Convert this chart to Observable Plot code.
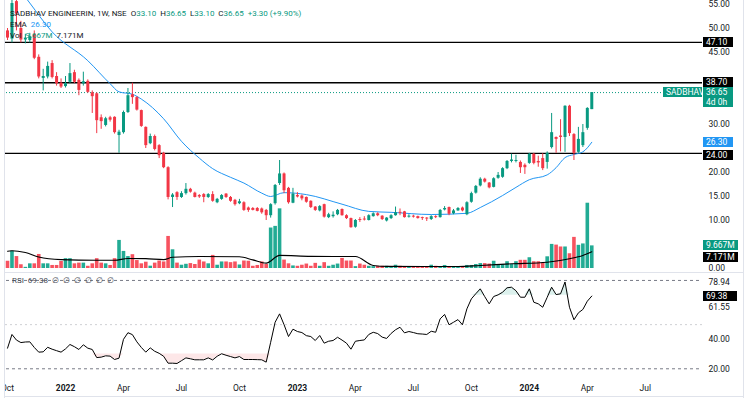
<!DOCTYPE html>
<html><head><meta charset="utf-8">
<script src="https://cdn.jsdelivr.net/npm/d3@7"></script>
<script src="https://cdn.jsdelivr.net/npm/@observablehq/plot@0.6"></script>
<style>
body{margin:0;background:#fff;}
#chart{position:relative;width:745px;height:398px;overflow:hidden;font-family:Roboto,"Liberation Sans",sans-serif;color:#131722;background:#fff;}
#chart svg{position:absolute;left:0;}
.tag{position:absolute;font-size:8.5px;color:#fff;padding-left:3px;box-sizing:border-box;white-space:nowrap;}
.leg{position:absolute;left:10px;font-size:8px;line-height:10px;white-space:nowrap;color:#131722;}
.g{color:#089981}.b{color:#2196f3}
.line{position:absolute;background:#e0e3eb;}
</style></head><body><div id="chart"></div>
<script>
// ---------- data (weekly bars, first bar week of 2021-10-04) ----------
const startWeek = "2021-10-04";
const open = [49.5,47.8,55.6,50,47.6,47.5,48.8,44,39.6,39.9, 42.7,40,38.6,37.9,38.8,40.8,39.2,38.5,39,36.6, 36.4,31.4,29.8,31.4,31.5,27.7,28.3,32.5,36.2,35.6, 32.9,29.4,26,27.5,25.6,24,21,14.8,15.8,14.8, 15.6,16.5,15.7,15.2,15.4,14.8,15.4,13.7,14.4,15.5, 14.8,14.2,13.5,13.7,12.6,12.5,12.5,12.4,12.1,11, 13.5,17.7,19.7,16.7,13.6,15.2,15.1,14.8,14,12.8, 12,13.3,10.6,10.8,11.2,12.3,11,10.4,8.6,10.2, 10.3,10,10.8,11.4,10.9,9.9,10.4,11,11.7,11.8, 10.7,10.9,10.8,10.6,10.5,10.2,10.8,10.6,12.2,12.7, 11.4,12,12.6,11.2,13.8,15.7,17.2,18.6,17.8,16.9, 18.8,19,20.8,22.3,22.3,22.1,21.5,21.9,23.8,22.3, 22.9,22.1,25.2,27.3,27.6,27.3,33.8,27.9,24.2,25.6, 29.2,33.1];
const high = [50,56,57,51.5,48.8,49,49.5,44.5,41.5,43, 43.3,40.8,39.5,40,42.7,41.3,39.5,40.9,39.3,37, 36.6,32,31.5,31.7,31.6,28.8,32.8,37.5,38.6,35.8, 33,29.5,28,27.8,25.8,24.2,21.2,15.6,16,16, 17.7,16.7,15.9,15.4,15.6,15.6,16,14.6,15.4,15.6, 15,14.4,14.4,13.9,12.8,12.7,12.7,12.6,12.3,13.5, 17.5,22.5,19.9,16.9,16.7,15.8,15.3,14.9,14.1,12.9, 13.1,13.4,11.5,11.8,12.3,12.4,11.2,10.5,10.2,10.6, 10.8,11.2,11.6,11.6,11,10.6,11.2,12.8,12.4,11.9, 11.2,11.1,10.9,10.7,10.6,11,11,12.3,12.9,12.8, 12.3,12.7,12.8,13.9,15.9,17.3,18.9,18.8,17.9,18.9, 20,21,22.5,23.8,23.6,22.4,21.8,24,24,23.4, 23.9,24.3,32.3,27.4,31,33.9,34,28.1,29.4,30, 33.5,36.65];
const low = [47.5,47,49.5,47,46.8,47,43.5,39.5,37,39.5, 39.5,38,37.5,37.6,38.5,38.5,36,38,36.5,32.3, 28.1,29,29.5,30.5,28,24,28,32.3,34.2,32.8, 29.4,25,25.8,24.5,22.9,20.8,14.3,12.7,14.2,14.6, 15.3,15.7,14.7,14.6,13.7,14.6,13.8,13.5,14.2,14.6, 13.8,13,13.3,11.9,11.7,12,11.8,11.3,10,10.5, 13.2,17.3,15.6,13.4,13.5,14.7,14.1,13.6,12.5,11.9, 11.8,10.5,10.4,10.5,11,10.9,10.2,8.4,8.4,9.6, 9.9,9.9,10.7,10.8,10,9.7,10.2,10.9,11,10.5, 10.5,10.5,10.3,10,9.8,10,10.4,10.5,12,11, 11.2,11.9,11.8,11,13.6,15.5,17,17.8,16.6,16.8, 18.6,18.8,20.6,22,22,19.8,19.6,21.7,21.6,21.1, 20.4,20.7,24.9,24,24.3,24.2,27.5,22.5,24,25.2, 28.8,33.1];
const close = [48,55.2,53,47.6,48,48.3,43.8,39.9,40,42.1, 39.8,38.5,37.8,38.5,40.6,38.8,37.1,38.9,36.7,35.8, 30.8,30.6,31.2,30.9,28.3,28.4,32.5,36,35.6,33, 29.6,25.6,27.5,24.8,23.5,21,14.8,15.3,14.8,15.6, 16.5,15.9,14.8,14.9,14.8,15.4,14,14.4,15.2,14.8, 14,13.3,13.9,12.1,12.1,12.1,11.9,11.6,11,13.3, 17.3,19.7,16.2,13.7,15.5,14.9,14.5,13.8,12.7,12.1, 12.9,10.7,11.2,11.1,12.1,11,10.4,8.5,10,10, 10.1,11,11.4,11,10.2,10.5,11,11.6,11.5,10.6, 10.9,10.7,10.4,10.4,10.3,10.8,10.6,12.1,12.5,11.3, 12,12.5,12,13.7,15.6,17.1,18.6,18,16.8,18.7, 19.4,20.8,22.3,22.6,22.5,21,21,23.8,21.9,22, 20.8,24,28.3,26.9,27.3,33.8,28.1,24,26.9,28.3, 33.35,36.65];
const volumeM = [3.1,7.4,5.1,1.6,0.5,2,2,6,2,2, 1.3,1.3,3,4.2,4.2,2,2.3,2.3,0.95,2, 4.2,2.3,2,1.3,4.2,12,7.3,5.1,5.9,3.4, 2,2.7,1,2.3,3.2,2.8,13.7,8,2.3,1.4, 1.8,2.1,1.7,3.6,2.8,2,5.6,1.4,2.8,2.8, 2.5,2.8,1.5,3.2,3.1,0.95,1.3,2.8,1.7,17.3, 18,25.5,3.6,2,1.1,0.95,1.4,1.9,0.95,2.2, 0.95,2.5,0.95,1.4,1.9,4.3,3.2,3.2,0.8,1.9, 1.4,0.95,0.8,0.95,0.95,0.95,0.8,1.4,0.95,0.8, 0.8,0.8,0.8,0.8,0.8,1.4,0.95,0.8,1.3,0.6, 0.8,0.6,0.4,1.3,1.3,1.7,2.1,2.1,1.9,3.1, 1.7,1.7,2.9,1.7,2.9,3.5,3.5,4.6,2.9,2.9, 2.4,5,10.3,10,9.2,9.2,6.3,13.3,9.9,10.5, 27.9,9.667];
const rsi = [34,43.3,39.5,37.8,38.2,38.3,34.5,31.3,31.5,34.6, 33.3,32.3,31.3,33.5,36.5,35,33.1,36.3,34,33.1, 27.6,27.9,28.8,28.6,26.3,27.2,40,44.5,43.2,38.3, 34.5,31.3,34.2,31.9,30.5,28.5,23.8,23.8,23.6,25.5, 27.4,26.8,26.1,26.1,26.1,27.4,26,28.5,30.2,29.2, 28.3,27.4,28.3,26.3,26.3,26.3,26.2,26.1,24.5,38, 51.6,57.3,50,41.9,46.9,45.3,44.6,42.5,41.9,39.2, 42.6,37.4,38.7,39.2,41.4,39.5,37.4,33.3,38.7,39.2, 39.6,43.3,44.8,43.9,41.5,40.6,44,46.5,48.2,44.4, 45.3,44.6,43.8,43.6,43.3,45.5,44.8,53.9,56.9,49.9, 51.6,53.4,49.9,60.7,67.5,71,74.3,69,64.1,69.1, 70.2,72,75,75.4,73,68.6,68.6,74.3,65.2,64.1, 61.8,68.5,75.4,70.4,70.9,78.94,61.8,53.3,58,60.3, 65.9,69.38];
const emaWeeks  = [2,5,10,18,23,25,28,30,35,39,43,46,50,53,57,59,62,67,75,81,86,95,103,106,111,114,117,121,123,125,127,129,131];
const emaValues = [59,55.3,49.3,43.3,38.5,36.8,36.3,35.3,31.2,26.5,23,20.8,19,17.8,15.7,15,15.8,15.4,13.4,11.9,11.7,11.25,11.5,12.7,15.2,16.9,18.5,19.5,21,23.1,23.75,24.3,26.3];
const volMaWeeks  = [0,1,4,7,12,20,24,27,31,35,37,43,52,55,58,61,68,78,82,85,101,106,113,121,126,129,131];
const volMaValues = [7.4,7.6,6.8,4.9,3.8,3.5,3.5,4.3,4.2,3.8,4.8,5.1,5.0,3.7,2.3,5.6,5.2,5.1,1.3,0.9,0.85,1.3,2.0,2.7,4.2,5.6,7.171];
const levels = [47.10, 38.70, 24.00];
const priceTicks = [0,10,15,20,30,45,50,55];
const rsiBands = [80, 20];
const rsiMid = [50];
const rsiAxisLabels = [78.94, 61.55, 40, 20];
const monthTickDates = ["2021-10-04","2022-04-04","2022-07-04","2022-10-03","2023-04-03","2023-07-03","2023-10-02","2024-04-01","2024-07-01"];
const yearTickDates = ["2022-01-03","2023-01-02","2024-01-01"];
const symbol = "SADBHAV", title = "SADBHAV ENGINEERIN, 1W, NSE";

// ---------- layout helpers ----------
const W = 745, FRAME_R = 702;
const PX_PER_DAY = 4.46 / 7;
const anchorT = Date.UTC(2022, 0, 1), anchorPx = 65 - 2 * PX_PER_DAY;
const dateAtPx = px => new Date(anchorT + (px - anchorPx) / PX_PER_DAY * 864e5);
const xScale = {type: "utc", domain: [dateAtPx(0), dateAtPx(FRAME_R)], axis: null};
const UP = "#089981", DOWN = "#f23645", VUP = "#22ab94", VDOWN = "#f7525f";

const t0 = new Date(startWeek);
const wk = i => d3.utcMonday.offset(t0, i);
const bars = open.map((o, i) => ({date: wk(i), open: o, high: high[i], low: low[i], close: close[i], volume: volumeM[i], rsi: rsi[i]}));
const ema = emaWeeks.map((w, i) => ({date: wk(w), v: emaValues[i]}));
const volMa = volMaWeeks.map((w, i) => ({date: wk(w), v: volMaValues[i]}));
const last = bars[bars.length - 1];
const prev = bars[bars.length - 2];

const chart = document.getElementById("chart");
const baseStyle = {background: "transparent", fontFamily: "Roboto, 'Liberation Sans', sans-serif", fontSize: "8.5px", color: "#131722", overflow: "visible"};

// ---------- pane separators (behind everything) ----------
function line(l, t, w, h) { const d = document.createElement("div"); d.className = "line"; Object.assign(d.style, {left: l + "px", top: t + "px", width: w + "px", height: h + "px"}); chart.append(d); }
line(4, 272, 739, 1);

// ---------- volume pane (behind candles) ----------
const volPlot = Plot.plot({
  width: W, height: 270, marginLeft: 0, marginRight: W - FRAME_R, marginTop: 0, marginBottom: 2,
  x: xScale, y: {domain: [0, 268 / 2.34], axis: null}, color: {type: "identity"},
  style: baseStyle,
  marks: [
    Plot.ruleX(bars, {x: "date", y1: 0, y2: "volume", stroke: d => d.close >= d.open ? VUP : VDOWN, strokeWidth: 3.6}),
    Plot.line(volMa, {x: "date", y: "v", stroke: "#000", strokeWidth: 1.1, curve: "monotone-x"})
  ]
});
volPlot.style.top = "0px"; chart.append(volPlot);

// ---------- price pane ----------
const pricePlot = Plot.plot({
  width: W, height: 278, marginLeft: 0, marginRight: W - FRAME_R, marginTop: 0, marginBottom: 10,
  x: xScale, y: {domain: [0, 268 / 4.8]}, color: {type: "identity"},
  style: baseStyle,
  marks: [
    Plot.axisY(priceTicks, {anchor: "right", tickSize: 0, tickPadding: 6, tickFormat: d => d.toFixed(2), label: null, fill: "#131722"}),
    Plot.ruleY([last.close], {stroke: UP, strokeWidth: 1, strokeDasharray: "1,2"}),
    Plot.ruleY(levels, {stroke: "#000", strokeWidth: 1.3}),
    Plot.line(ema, {x: "date", y: "v", stroke: "#2196f3", strokeWidth: 1, curve: "monotone-x", clip: true}),
    Plot.ruleX(bars, {x: "date", y1: "low", y2: "high", stroke: d => d.close >= d.open ? UP : DOWN, strokeWidth: 1, clip: true}),
    Plot.ruleX(bars, {x: "date", y1: "open", y2: "close", stroke: d => d.close >= d.open ? UP : DOWN, strokeWidth: 3, clip: true})
  ]
});
pricePlot.style.top = "0px"; chart.append(pricePlot);

// ---------- RSI pane + time axis ----------
const RSI_TOP = 270;
const rsiPlot = Plot.plot({
  width: W, height: 128, marginLeft: 0, marginRight: W - FRAME_R, marginTop: 0, marginBottom: 20,
  x: xScale, y: {domain: [13.4, 86.75]},
  style: baseStyle,
  marks: [
    Plot.ruleY(rsiBands, {stroke: "#787b86", strokeWidth: 1, strokeDasharray: "3,3"}),
    Plot.ruleY(rsiMid, {stroke: "#787b86", strokeOpacity: 0.35, strokeDasharray: "2,3"}),
    Plot.areaY(bars, {x: "date", y1: 30, y2: d => Math.min(d.rsi, 30), fill: "#f23645", fillOpacity: 0.12}),
    Plot.areaY(bars, {x: "date", y1: 70, y2: d => Math.max(d.rsi, 70), fill: "#089981", fillOpacity: 0.14}),
    Plot.line(bars, {x: "date", y: "rsi", stroke: "#000", strokeWidth: 1}),
    Plot.axisY(rsiAxisLabels, {anchor: "right", tickSize: 0, tickPadding: 6, tickFormat: d => d.toFixed(2), label: null, fill: "#131722"}),
    Plot.axisX(monthTickDates.map(d => new Date(d)), {anchor: "bottom", tickSize: 0, tickPadding: 6, tickFormat: d3.utcFormat("%b"), label: null, fill: "#131722"}),
    Plot.axisX(yearTickDates.map(d => new Date(d)), {anchor: "bottom", tickSize: 0, tickPadding: 6, tickFormat: d3.utcFormat("%Y"), label: null, fontWeight: "bold", fill: "#131722"})
  ]
});
rsiPlot.style.top = RSI_TOP + "px"; chart.append(rsiPlot);

// ---------- borders ----------
const cover = document.createElement("div");
Object.assign(cover.style, {position: "absolute", left: "0px", top: "0px", width: "4px", height: "398px", background: "#fff"});
chart.append(cover);
line(4, 0, 1, 398); line(743, 0, 1, 398); line(4, 396, 740, 1);

// ---------- price-scale tags ----------
const yP = v => pricePlot.scale("y").apply(v);
const yV = v => volPlot.scale("y").apply(v);
const yR = v => RSI_TOP + rsiPlot.scale("y").apply(v);
function tag(html, yc, bg, {left = 703, width = 30, h = 10, color = "#fff"} = {}) {
  const d = document.createElement("div"); d.className = "tag"; d.innerHTML = html;
  Object.assign(d.style, {background: bg, color, left: left + "px", width: width + "px", height: h + "px", top: (yc - h / 2) + "px", lineHeight: "10px"});
  chart.append(d);
}
tag(levels[0].toFixed(2), yP(levels[0]), "#000");
tag(levels[1].toFixed(2), yP(levels[1]), "#000");
tag(symbol, yP(last.close), UP, {left: 663, width: 39});
tag(last.close.toFixed(2) + "<br>4d 0h", yP(last.close) + 5, UP, {h: 20});
tag(emaValues[emaValues.length - 1].toFixed(2), yP(emaValues[emaValues.length - 1]), "#2196f3");
tag(levels[2].toFixed(2), yP(levels[2]) + 2, "#000");
tag(last.volume.toFixed(3) + "M", yV(last.volume), UP, {width: 35});
tag(volMaValues[volMaValues.length - 1].toFixed(3) + "M", yV(volMaValues[volMaValues.length - 1]) + 6, "#000", {width: 35});
tag(last.rsi.toFixed(2), yR(last.rsi), "#000", {width: 34});

// ---------- legends ----------
function leg(html, top) { const d = document.createElement("div"); d.className = "leg"; d.innerHTML = html; d.style.top = top + "px"; chart.append(d); }
const chg = last.close - prev.close;
leg(`${title}&nbsp; O<span class="g">${last.open.toFixed(2)}</span>&nbsp; H<span class="g">${last.high.toFixed(2)}</span>&nbsp; L<span class="g">${last.low.toFixed(2)}</span>&nbsp; C<span class="g">${last.close.toFixed(2)}</span>&nbsp; <span class="g">+${chg.toFixed(2)} (+${(chg / prev.close * 100).toFixed(2)}%)</span>`, 9);
leg(`EMA&nbsp; <span class="b">${emaValues[emaValues.length - 1].toFixed(2)}</span>`, 20);
leg(`Vol&nbsp; <span class="g">${last.volume.toFixed(3)}M</span>&nbsp; ${volMaValues[volMaValues.length - 1].toFixed(3)}M`, 31);
const rl = document.createElement("div"); rl.className = "leg";
rl.innerHTML = `RSI&nbsp; ${last.rsi.toFixed(2)}&nbsp; &#8709;&nbsp; &#8709;&nbsp; &#8709;&nbsp; &#8709;&nbsp; &#8709;&nbsp; &#8709;`;
Object.assign(rl.style, {top: "276px", left: "12px", color: "#434651"});
chart.append(rl);
</script></body></html>
